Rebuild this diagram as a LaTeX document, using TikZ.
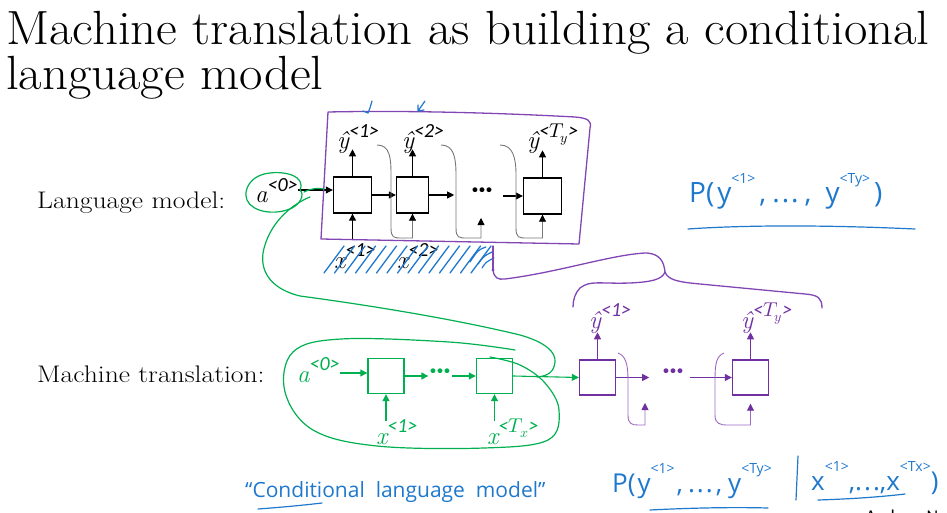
\documentclass[tikz,border=0pt]{standalone}
\usepackage{graphicx}
\usepackage{fontspec}
\usepackage{unicode-math}
\setmathfont{Latin Modern Math}
\newfontfamily\cali{Carlito}
\newfontfamily\hand{Open Sans}
\usetikzlibrary{arrows.meta,calc}
\definecolor{pgreen}{RGB}{0,176,80}
\definecolor{ppurple}{RGB}{112,48,160}
\definecolor{hpurple}{RGB}{130,70,180}
\definecolor{hblue}{RGB}{30,120,205}
\definecolor{fbgray}{RGB}{120,120,120}
\newcommand\lbl[2]{#1\raisebox{0.47em}{\cali\fontsize{20}{20}\selectfont <#2>}}
\newcommand\hsup[1]{\raisebox{0.7em}{\fontsize{14}{14}\selectfont #1}}
\newcommand\myhdots{.\kern2pt.\kern2pt.}
\begin{document}
\begin{tikzpicture}[x=1pt,y=-1pt,
  cellK/.style={draw=black,line width=1.4pt,minimum width=38pt,minimum height=36pt,inner sep=0pt},
  cellG/.style={draw=pgreen,line width=1.4pt,minimum width=36pt,minimum height=35pt,inner sep=0pt},
  cellP/.style={draw=ppurple,line width=1.4pt,minimum width=36pt,minimum height=35pt,inner sep=0pt},
  arK/.style={-{Triangle[length=7pt,width=7pt]},line width=1.1pt,black},
  arG/.style={-{Triangle[length=7pt,width=7pt]},line width=1.1pt,pgreen},
  arP/.style={-{Triangle[length=7pt,width=7pt]},line width=1.1pt,ppurple},
  fbK/.style={-{Triangle[length=7pt,width=7pt,color=black]},line width=0.9pt,fbgray},
  fbP/.style={line width=0.9pt,hpurple!80!white,-{Triangle[length=7pt,width=7pt,color=ppurple]}},
  lab/.style={inner sep=0pt,font=\itshape\fontsize{25}{25}\selectfont},
  dots/.style={inner sep=1pt,font=\cali\bfseries\fontsize{26}{26}\selectfont},
  penG/.style={pgreen,line width=1.2pt,line cap=round,line join=round},
  penP/.style={hpurple,line width=1.3pt,line cap=round,line join=round},
  penB/.style={hblue,line width=1.2pt,line cap=round,line join=round},
  handtxt/.style={inner sep=0pt,text=hblue,font=\hand\fontsize{26}{26}\selectfont},
  rowlab/.style={anchor=base west,inner sep=0pt,font=\fontsize{24}{24}\selectfont},
]
\useasboundingbox (0,0) rectangle (947,513);
% title
\node[anchor=base west,inner sep=0pt,font=\fontsize{48}{50}\selectfont] (t1) at (6,45) {\scalebox{1.06}[1]{Machine translation as building a conditional}};
\node[anchor=base west,inner sep=0pt,font=\fontsize{48}{50}\selectfont] (t2) at (6,90) {\scalebox{1.06}[1]{language model}};
% row labels
\node[rowlab] (lm) at (37,208) {\scalebox{1.15}[1]{Language model:}};
\node[rowlab] (mt) at (37,382) {\scalebox{1.15}[1]{Machine translation:}};

% ---------- upper diagram ----------
\node[lab,anchor=base west] (a0) at (255,203) {\lbl{a}{0}};
\node[cellK] (k1) at (352.5,195) {};
\node[cellK,minimum width=32pt] (k2) at (412.5,195) {};
\node[cellK] (k3) at (542.5,196) {};
\node[dots] (dk) at (482,193) {···};
\draw[arK] (a0.east |- 0,190) coordinate (a0e) -- (a0e -| k1.west);
\draw[arK] (k1) -- (k2);
\draw[arK] (k2.east) -- ++(25,0) coordinate (dkin);
\coordinate (dko) at (503,196);
\draw[arK] (dko) -- (k3.west);
% outputs
\node[lab,anchor=base west] (yk1) at (337,149) {\lbl{ŷ}{1}};
\node[lab,anchor=base west] (yk2) at (402,149) {\lbl{ŷ}{2}};
\node[lab,anchor=base west] (yk3) at (527,149) {\lbl{ŷ}{$T_y$}};
\draw[arK] (k1.north) -- ++(0,-27);
\draw[arK] (k2.north) -- ++(0,-27);
\draw[arK] (k3.north) -- ++(0,-27);
% inputs
\node[lab,anchor=base west] (xk1) at (334,268) {\lbl{x}{1}};
\node[lab,anchor=base west] (xk2) at (397,268) {\lbl{x}{2}};
\draw[arK] (k1.south) ++(0,25) -- (k1.south);
% feedback (grey)
\coordinate (fe2) at (481,218);
\draw[fbK] (377,145) .. controls (390,145) and (391,158) .. (391,175) -- (391,228)
  .. controls (391,238) and (394,238) .. (402,238) -| (k2.south);
\draw[fbK] (441,145) .. controls (454,145) and (456,158) .. (456,175) -- (456,228)
  .. controls (456,238) and (459,238) .. (467,238) -| (fe2);
\draw[fbK] (500,145) .. controls (513,145) and (516,158) .. (516,175) -- (516,228)
  .. controls (516,238) and (519,238) .. (527,238) -| (k3.south);

% hand-drawn purple frame
\draw[penP] (328,112) .. controls (420,110) and (520,114) .. (575,117)
  .. controls (588,118) and (592,121) .. (590,128) -- (579,244) -- (321,239) -- cycle;
% blue ticks above
\draw[penB] (363,111) -- (368,113) .. controls (370,108) .. (372,101);
\draw[penB] (425,101) -- (418,111) -- (418,105) (418,111) -- (424,110);
% blue hatching over x labels
\foreach \i in {0,...,14}{
  \draw[penB,line width=1.3pt] (324+\i*10.5,273) -- ++(20,-27);
}
\draw[penB] (470,262) .. controls (478,250) .. (486,247) (478,264) .. controls (484,256) .. (492,252)
  (482,268) .. controls (486,262) .. (494,258);
% purple line to brace
\draw[penP] (493,246) -- (493,270);
\fill[hpurple] (493,270) circle (1.6pt);
\draw[penP] (493,270) .. controls (494,278) and (498,280) .. (505,279)
  .. controls (560,272) and (610,255) .. (645,253)
  .. controls (660,253) and (664,262) .. (665,272);
% brace
\draw[penP] (665,272) .. controls (662,280) and (650,282) .. (630,283)
  .. controls (600,284) and (590,280) .. (580,288) .. controls (575,293) and (573,300) .. (573,307);
\draw[penP] (665,272) .. controls (668,280) and (678,282) .. (700,284)
  -- (805,294) .. controls (818,295) and (822,298) .. (822,308);

% green circle around a0 and curve
\draw[penG] (300,190) .. controls (306,176) and (285,171) .. (270,173)
  .. controls (250,175) and (243,190) .. (247,200)
  .. controls (252,212) and (275,216) .. (292,208)
  .. controls (300,204) and (305,195) .. (300,190);
\draw[penG] (304,192) .. controls (312,188) and (318,188) .. (324,189);
\draw[penG] (310,197) .. controls (290,205) and (268,225) .. (263,253)
  .. controls (260,275) and (275,290) .. (300,296)
  .. controls (360,304) and (450,318) .. (520,335)
  .. controls (545,342) and (556,352) .. (555,362)
  .. controls (554,372) and (548,376) .. (537,377);

% ---------- lower diagram ----------
\node[lab,anchor=base west,text=pgreen] (b0) at (297,382) {\lbl{a}{0}};
\node[cellG] (g1) at (386,376) {};
\node[cellG] (g2) at (494.5,376) {};
\node[cellP] (p1) at (597.5,377.5) {};
\node[cellP] (p2) at (750.5,377.5) {};
\node[dots,text=pgreen] (dg) at (440,374) {···};
\node[dots,text=ppurple] (dp) at (673,374) {···};
\draw[arG] (b0.east |- 0,373) coordinate (b0e) -- (b0e -| g1.west);
\draw[arG] (g1.east) -- (g1.east -| dg.west);
\draw[arG] (g2.west -| dg.east) -- (g2.west);
\draw[arG] (g2.east) -- (p1.west);
\draw[arP] (p1.east) -- ++(33,0) coordinate (pfree);
\coordinate (dpo) at (690,377.5);
\draw[arP] (dpo) -- (p2.west);
% inputs green
\node[lab,anchor=base west,text=pgreen] (xg1) at (376,444) {\lbl{x}{1}};
\node[lab,anchor=base west,text=pgreen] (xg2) at (487,444) {\lbl{x}{$T_x$}};
\draw[arG] (g1.south) ++(0,27) -- (g1.south);
\draw[arG] (g2.south) ++(0,27) -- (g2.south);
% outputs purple
\node[lab,anchor=base west,text=ppurple] (yp1) at (589,328) {\lbl{ŷ}{1}};
\node[lab,anchor=base west,text=ppurple] (yp2) at (741,328) {\lbl{ŷ}{$T_y$}};
\draw[arP] (p1.north) -- ++(0,-27);
\draw[arP] (p2.north) -- ++(0,-27);
% purple feedback
\coordinate (pf1) at (645,403);
\draw[fbP] (618,353) .. controls (626,356) and (628,365) .. (628,380) -- (628,415)
  .. controls (628,424) and (632,425) .. (638,425) -| (pf1);
\draw[fbP] (724,353) .. controls (716,356) and (715,365) .. (715,380) -- (715,415)
  .. controls (715,424) and (720,425) .. (728,425) -| ($(p2.south)+(0,8)$);

% green loop around encoder
\draw[penG] plot[smooth,tension=0.6] coordinates {(515,350) (449,342) (341,339) (293,352) (285,392) (313,430) (377,446) (484,448) (548,440) (559,410) (545,383) (520,365) (490,357)};

% ---------- blue handwriting ----------
\node[handtxt,anchor=base west,font=\hand\fontsize{28}{28}\selectfont] (pa) at (689,203) {P(\kern3pt y\hsup{<1>}\kern4pt,\kern6pt\myhdots\kern6pt,\kern14pt y\hsup{<Ty>}\kern4pt)};
\draw[penB] (688,229) .. controls (760,224) and (850,226) .. (915,229);
\node[handtxt,anchor=base west,font=\hand\fontsize{21}{21}\selectfont] (cl) at (245,497) {“Conditional\ \ language\ \ model”};
\draw[penB] (258,509) .. controls (285,507) and (305,505) .. (322,503);
\node[handtxt,anchor=base west] (pb) at (612,492) {P(\kern2pt y\hsup{<1>}\kern2pt,\kern5pt\myhdots\kern3pt,\kern6pt y\hsup{<Ty>}};
\node[handtxt,anchor=base west] (pc) at (811,490) {x\hsup{<1>},\myhdots,x\hsup{<Tx>})};
\draw[penB] (798,456) -- (796,500);
\draw[penB] (650,510) .. controls (690,508) and (730,507) .. (768,508);
\draw[penB] (818,500) .. controls (850,499) and (880,497) .. (905,494);

% footer (cut off)
\node[anchor=base east,inner sep=0pt,font=\cali\fontsize{18}{18}\selectfont] (ng) at (947,522) {Andrew Ng};
\end{tikzpicture}
\end{document}
